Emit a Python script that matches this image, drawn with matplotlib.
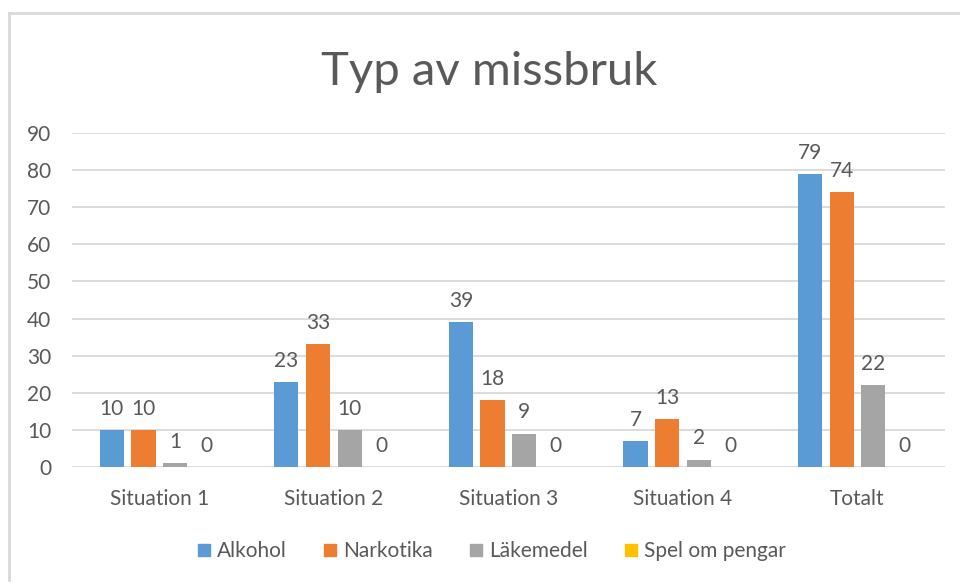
import matplotlib.pyplot as plt
from matplotlib.lines import Line2D
import numpy as np

categories = ['Situation 1', 'Situation 2', 'Situation 3', 'Situation 4', 'Totalt']
series_names = ['Alkohol', 'Narkotika', 'Läkemedel', 'Spel om pengar']
alkohol = [10, 23, 39, 7, 79]
narkotika = [10, 33, 18, 13, 74]
lakemedel = [1, 10, 9, 2, 22]
spel = [0, 0, 0, 0, 0]
colors = ['#5B9BD5', '#ED7D31', '#A5A5A5', '#FFC000']
yticks = [0, 10, 20, 30, 40, 50, 60, 70, 80, 90]

plt.rcParams['font.family'] = ['Lato', 'DejaVu Sans']
txt = '#595959'

fig = plt.figure(figsize=(9.6, 5.83), dpi=100)
ax = fig.add_axes([0.075, 0.199, 0.909, 0.573])

x = np.arange(len(categories))
step = 0.181
width = 0.138
for i, vals in enumerate([alkohol, narkotika, lakemedel, spel]):
    pos = x + (i - 1.5) * step
    ax.bar(pos, vals, width, color=colors[i], label=series_names[i], zorder=3)
    for p, v in zip(pos, vals):
        ax.annotate(str(v), (p, v), xytext=(0, 8), textcoords='offset points',
                    ha='center', va='bottom', fontsize=15, color=txt)

ax.set_xlim(-0.5, len(categories) - 0.5)
ax.set_ylim(0, 90)
ax.set_yticks(yticks)
ax.set_xticks(x)
ax.set_xticklabels(categories)
ax.tick_params(axis='both', length=0, labelsize=15, labelcolor=txt)
ax.tick_params(axis='y', pad=15)
ax.tick_params(axis='x', pad=16)
ax.grid(axis='y', color='#D9D9D9', lw=1.3, zorder=0)
for s in ax.spines.values():
    s.set_visible(False)

fig.text(0.51, 0.876, 'Typ av missbruk', ha='center', va='center',
         fontsize=34, color=txt)

handles = [Line2D([], [], marker='s', ls='', color=c, markersize=9) for c in colors]
fig.legend(handles, series_names, loc='center', bbox_to_anchor=(0.51, 0.055),
           ncol=4, frameon=False, fontsize=15, labelcolor=txt,
           handletextpad=0.1, columnspacing=1.6, handlelength=1.0)

# chart frame (left and top edges visible in the crop)
fig.add_artist(Line2D([9 / 960, 9 / 960], [1 - 580 / 583, 1 - 13 / 583],
                      transform=fig.transFigure, color='#D9D9D9', lw=2))
fig.add_artist(Line2D([9 / 960, 1.0], [1 - 13 / 583, 1 - 13 / 583],
                      transform=fig.transFigure, color='#D9D9D9', lw=2))

fig.savefig('out.png', dpi=100)
